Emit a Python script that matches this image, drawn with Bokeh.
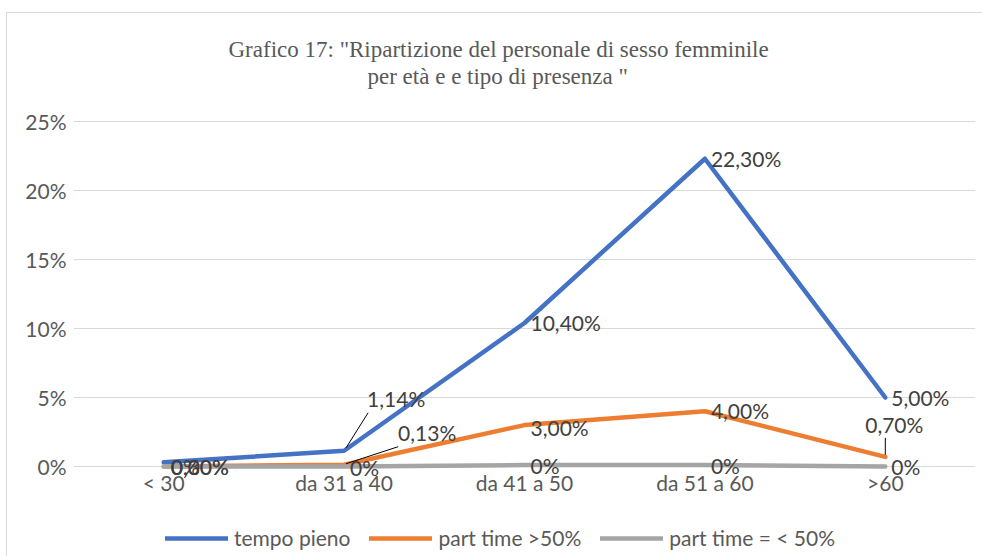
from bokeh.plotting import figure
from bokeh.models import (Range1d, FixedTicker, ColumnDataSource, Legend, LegendItem, Title)
from bokeh.core.properties import value
from bokeh.embed import file_html
from bokeh.resources import INLINE

categories = ["< 30", "da 31 a 40", "da 41 a 50", "da 51 a 60", ">60"]
tempo_pieno = [0.30, 1.14, 10.40, 22.30, 5.00]
part_time_sopra = [0.00, 0.13, 3.00, 4.00, 0.70]
part_time_sotto = [0.00, 0.00, 0.10, 0.10, 0.00]
lbl_tempo_pieno = ["0,30%", "1,14%", "10,40%", "22,30%", "5,00%"]
lbl_sopra = ["0,00%", "0,13%", "3,00%", "4,00%", "0,70%"]
lbl_sotto = ["0%", "0%", "0%", "0%", "0%"]
y_ticks = [0, 5, 10, 15, 20, 25]
y_tick_labels = ["0%", "5%", "10%", "15%", "20%", "25%"]
series_names = ["tempo pieno", "part time >50%", "part time = < 50%"]
colors = ["#4472C4", "#ED7D31", "#A5A5A5"]
title_line1 = 'Grafico 17: "Ripartizione del personale di sesso femminile'
title_line2 = 'per età e e tipo di presenza "'

# layout (pixels)
W, H = 982, 556
PLOT_LEFT, PLOT_RIGHT = 73, 975        # value area, horizontal
PLOT_TOP, PLOT_ZERO = 121, 466         # y of 25% and 0% gridlines
FRAME_TOP = 88
ML, MR, MT, MB = PLOT_LEFT, W - PLOT_RIGHT, FRAME_TOP, 0
YMAX = 25
px_x = (PLOT_RIGHT - PLOT_LEFT) / len(categories)
px_y = (PLOT_ZERO - PLOT_TOP) / YMAX
y_lo = -(H - PLOT_ZERO) / px_y
y_hi = YMAX + (PLOT_TOP - FRAME_TOP) / px_y

xs = [i + 0.5 for i in range(len(categories))]

border_css = ("linear-gradient(#d9d9d9,#d9d9d9) 6px 12px / 1px 100% no-repeat, "
              "linear-gradient(#d9d9d9,#d9d9d9) 6px 12px / 100% 1px no-repeat, white")
p = figure(width=W, height=H, output_backend="svg", toolbar_location=None,
           x_range=Range1d(0, len(categories)), y_range=Range1d(y_lo, y_hi),
           min_border_left=ML, min_border_right=MR, min_border_top=MT, min_border_bottom=MB,
           styles={"background": border_css})
p.outline_line_color = None
p.background_fill_color = None
p.border_fill_color = None

TF = "Lato"
FS = "21px"
AX_COL = "#595959"

p.xaxis.ticker = FixedTicker(ticks=xs)
p.xaxis.major_label_overrides = {x: c for x, c in zip(xs, categories)}
p.xaxis.fixed_location = 0
p.yaxis.ticker = FixedTicker(ticks=y_ticks)
p.yaxis.major_label_overrides = {t: l for t, l in zip(y_ticks, y_tick_labels)}
for ax in (p.xaxis, p.yaxis):
    ax.axis_line_color = None
    ax.major_tick_line_color = None
    ax.minor_tick_line_color = None
    ax.major_tick_out = 0
    ax.minor_tick_out = 0
    ax.major_label_text_font = TF
    ax.major_label_text_font_size = FS
    ax.major_label_text_color = AX_COL
p.xaxis.major_label_standoff = 3
p.yaxis.major_label_standoff = 7
p.xgrid.grid_line_color = None
p.ygrid.grid_line_color = "#d9d9d9"
p.ygrid.grid_line_width = 1.2

# Title (two lines)
p.title = None
t2 = Title(text=title_line2, align="left", offset=367 - ML,
           text_font="Liberation Serif", text_font_size="23px", text_font_style="normal",
           text_color=AX_COL, standoff=0)
t1 = Title(text=title_line1, align="left", offset=228 - ML,
           text_font="Liberation Serif", text_font_size="23px", text_font_style="normal",
           text_color=AX_COL, standoff=0)
p.add_layout(t2, "above")
p.add_layout(t1, "above")

renderers = []
for vals, col in zip([tempo_pieno, part_time_sopra, part_time_sotto], colors):
    r = p.line(xs, vals, line_color=col, line_width=4.5, line_cap="round", line_join="round")
    renderers.append(r)

# leader lines (pixel offsets from point: start, end)
leaders = [
    (1, tempo_pieno, (2, 3), (24, 38)),
    (1, part_time_sopra, (2, 1), (54, 18)),
    (4, part_time_sopra, (0, 2), (0, 19)),
]
lx0, ly0, lx1, ly1 = [], [], [], []
for i, vals, (a, b), (c, d) in leaders:
    lx0.append(xs[i] + a / px_x); ly0.append(vals[i] + b / px_y)
    lx1.append(xs[i] + c / px_x); ly1.append(vals[i] + d / px_y)
p.segment(lx0, ly0, lx1, ly1, line_color="#000000", line_width=1)

# data labels (pixel offsets: right, up)
lab_x, lab_y, lab_t, lab_dx, lab_dy, lab_al = [], [], [], [], [], []
offs = {
    0: [(7, -4), (23, 52), (6, 0), (6, 0), (6, 0)],
    1: [(7, 0), (54, 32), (6, -2), (6, 1), (9, 32)],
    2: [(7, 0), (6, -1), (6, 0), (6, 0), (6, 0)],
}
aligns = {
    0: ["left"] * 5,
    1: ["left", "left", "left", "left", "center"],
    2: ["left"] * 5,
}
for s, (vals, lbls) in enumerate(zip([tempo_pieno, part_time_sopra, part_time_sotto],
                                      [lbl_tempo_pieno, lbl_sopra, lbl_sotto])):
    for i in range(len(categories)):
        lab_x.append(xs[i]); lab_y.append(vals[i]); lab_t.append(lbls[i])
        lab_dx.append(offs[s][i][0]); lab_dy.append(-offs[s][i][1])
        lab_al.append(aligns[s][i])
src = ColumnDataSource(dict(x=lab_x, y=lab_y, t=lab_t, dx=lab_dx, dy=lab_dy, al=lab_al))
p.text(x="x", y="y", text="t", x_offset="dx", y_offset="dy", text_align="al",
       text_baseline="middle", text_font=value(TF), text_font_size=FS,
       text_color="#404040", source=src)

legend = Legend(items=[LegendItem(label=n, renderers=[r]) for n, r in zip(series_names, renderers)],
                orientation="horizontal", location=(165 - ML, 6),
                glyph_width=63, glyph_height=18, label_height=18, label_standoff=6, spacing=19,
                padding=0, margin=0, border_line_color=None, background_fill_alpha=0,
                label_text_font=TF, label_text_font_size=FS, label_text_color=AX_COL)
p.add_layout(legend, "center")

open("out.html", "w").write(file_html(p, INLINE))
